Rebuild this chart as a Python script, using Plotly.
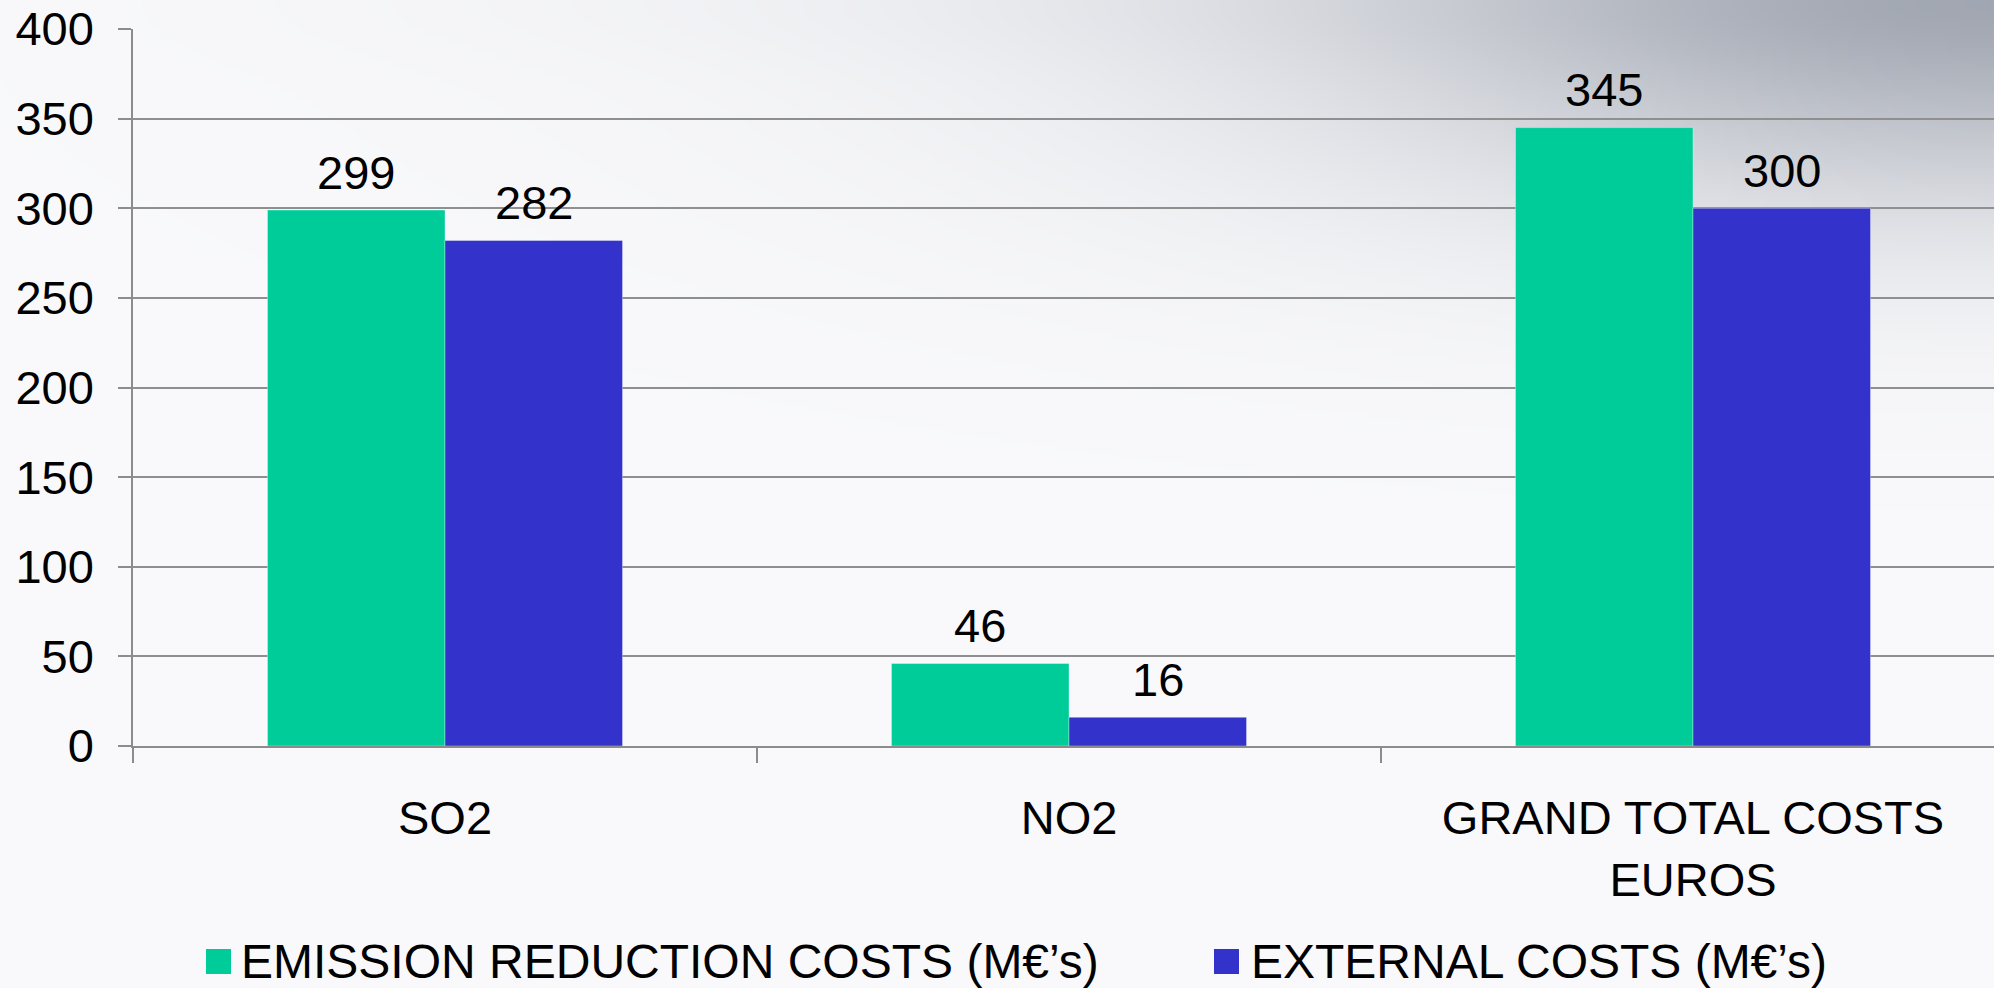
import base64
import struct
import zlib

import numpy as np
import plotly.graph_objects as go

# ---- data -------------------------------------------------------------
categories = ["SO2", "NO2", "GRAND TOTAL COSTS<br>EUROS"]
emission_reduction_costs = [299, 46, 345]
external_costs = [282, 16, 300]
series_names = ["EMISSION REDUCTION COSTS (M€’s)", "EXTERNAL COSTS (M€’s)"]
series_colors = ["#00CC99", "#3333CC"]
y_tick_values = [0, 50, 100, 150, 200, 250, 300, 350, 400]

# ---- page geometry ----------------------------------------------------
W, H = 1994, 988
L, R, T, B = 133, 0, 29, 242
PLOT_W = W - L - R
PLOT_H = H - T - B
FONT = "Arial, Liberation Sans, sans-serif"
FS = 47
BARGAP = 0.431


def px_x(px):
    return (px - L) / PLOT_W


def px_y(py):
    return (H - B - py) / PLOT_H


# ---- soft grey slide background rendered to a small PNG ---------------
def png_uri(rgb):
    h, w, _ = rgb.shape
    raw = b"".join(b"\x00" + rgb[r].tobytes() for r in range(h))

    def chunk(tag, data):
        body = tag + data
        return struct.pack(">I", len(data)) + body + struct.pack(">I", zlib.crc32(body) & 0xFFFFFFFF)

    png = b"\x89PNG\r\n\x1a\n"
    png += chunk(b"IHDR", struct.pack(">IIBBBBB", w, h, 8, 2, 0, 0, 0))
    png += chunk(b"IDAT", zlib.compress(raw, 9))
    png += chunk(b"IEND", b"")
    return "data:image/png;base64," + base64.b64encode(png).decode()


def background():
    sw, sh = W // 4, H // 4
    xs = np.linspace(0, W, sw)[None, :]
    ys = np.linspace(0, H, sh)[:, None]
    dx = W - xs
    w = 0.70 * np.exp(-((dx / 650.0) ** 2 + (ys / 200.0) ** 2))
    w += 0.12 * np.exp(-((dx / 1300.0) ** 2 + (ys / 320.0) ** 2))
    w += 0.08 * np.exp(-((ys / 60.0) ** 2)) * (xs / W)
    w = np.clip(w, 0, 1)[..., None]
    light = np.array([250, 250, 252], dtype=float)
    dark = np.array([152, 158, 170], dtype=float)
    img = light * (1 - w) + dark * w
    return png_uri(np.clip(img, 0, 255).astype(np.uint8))


# ---- figure -----------------------------------------------------------
fig = go.Figure()
for name, values, color in zip(series_names, [emission_reduction_costs, external_costs], series_colors):
    fig.add_trace(
        go.Bar(
            x=categories,
            y=values,
            name=name,
            marker=dict(color=color, line=dict(color="rgba(255,255,255,0.35)", width=1)),
            showlegend=False,
        )
    )

# value labels above each bar
half = (1 - BARGAP) / 4
annotations = []
for offset, values in ((-half, emission_reduction_costs), (half, external_costs)):
    for i, v in enumerate(values):
        annotations.append(
            dict(
                x=i + offset,
                y=v,
                xref="x",
                yref="y",
                text=str(v),
                showarrow=False,
                yanchor="middle",
                yshift=38,
                font=dict(family=FONT, size=FS, color="black"),
            )
        )

# legend row drawn below the axis
legend_items = [(206, 239, series_names[0], series_colors[0]), (1214, 1249, series_names[1], series_colors[1])]
shapes = []
for sq_x, txt_x, name, color in legend_items:
    shapes.append(
        dict(
            type="rect",
            xref="paper",
            yref="paper",
            x0=px_x(sq_x),
            x1=px_x(sq_x + 25),
            y0=px_y(974),
            y1=px_y(949),
            fillcolor=color,
            line=dict(width=0),
        )
    )
    annotations.append(
        dict(
            x=px_x(txt_x),
            y=px_y(962),
            xref="paper",
            yref="paper",
            xanchor="left",
            yanchor="middle",
            text=name,
            showarrow=False,
            font=dict(family=FONT, size=48, color="black"),
        )
    )

fig.update_layout(
    width=W,
    height=H,
    margin=dict(l=L, r=R, t=T, b=B, pad=0),
    paper_bgcolor="white",
    plot_bgcolor="rgba(0,0,0,0)",
    barmode="group",
    bargap=BARGAP,
    bargroupgap=0,
    font=dict(family=FONT, size=FS, color="black"),
    annotations=annotations,
    shapes=shapes,
    images=[
        dict(
            source=background(),
            xref="paper",
            yref="paper",
            x=px_x(0),
            y=px_y(0),
            sizex=W / PLOT_W,
            sizey=H / PLOT_H,
            xanchor="left",
            yanchor="top",
            sizing="stretch",
            layer="below",
        )
    ],
)

fig.update_xaxes(
    type="category",
    range=[-0.5, 2.5 - 11 / 624],
    tickson="boundaries",
    ticks="outside",
    ticklen=15,
    tickwidth=1.5,
    tickcolor="#8c8c8c",
    showline=True,
    linecolor="#8c8c8c",
    linewidth=2,
    showgrid=False,
    ticklabelstandoff=30,
    tickfont=dict(family=FONT, size=FS, color="black"),
)

fig.update_yaxes(
    range=[0, 400],
    tickvals=y_tick_values,
    ticks="outside",
    ticklen=13,
    tickwidth=1.5,
    tickcolor="#8c8c8c",
    showline=True,
    linecolor="#8c8c8c",
    linewidth=1.5,
    showgrid=True,
    gridcolor="#8f8f8f",
    gridwidth=1.5,
    zeroline=False,
    ticklabelstandoff=15,
    tickfont=dict(family=FONT, size=FS, color="black"),
)

fig.write_html("out.html")
